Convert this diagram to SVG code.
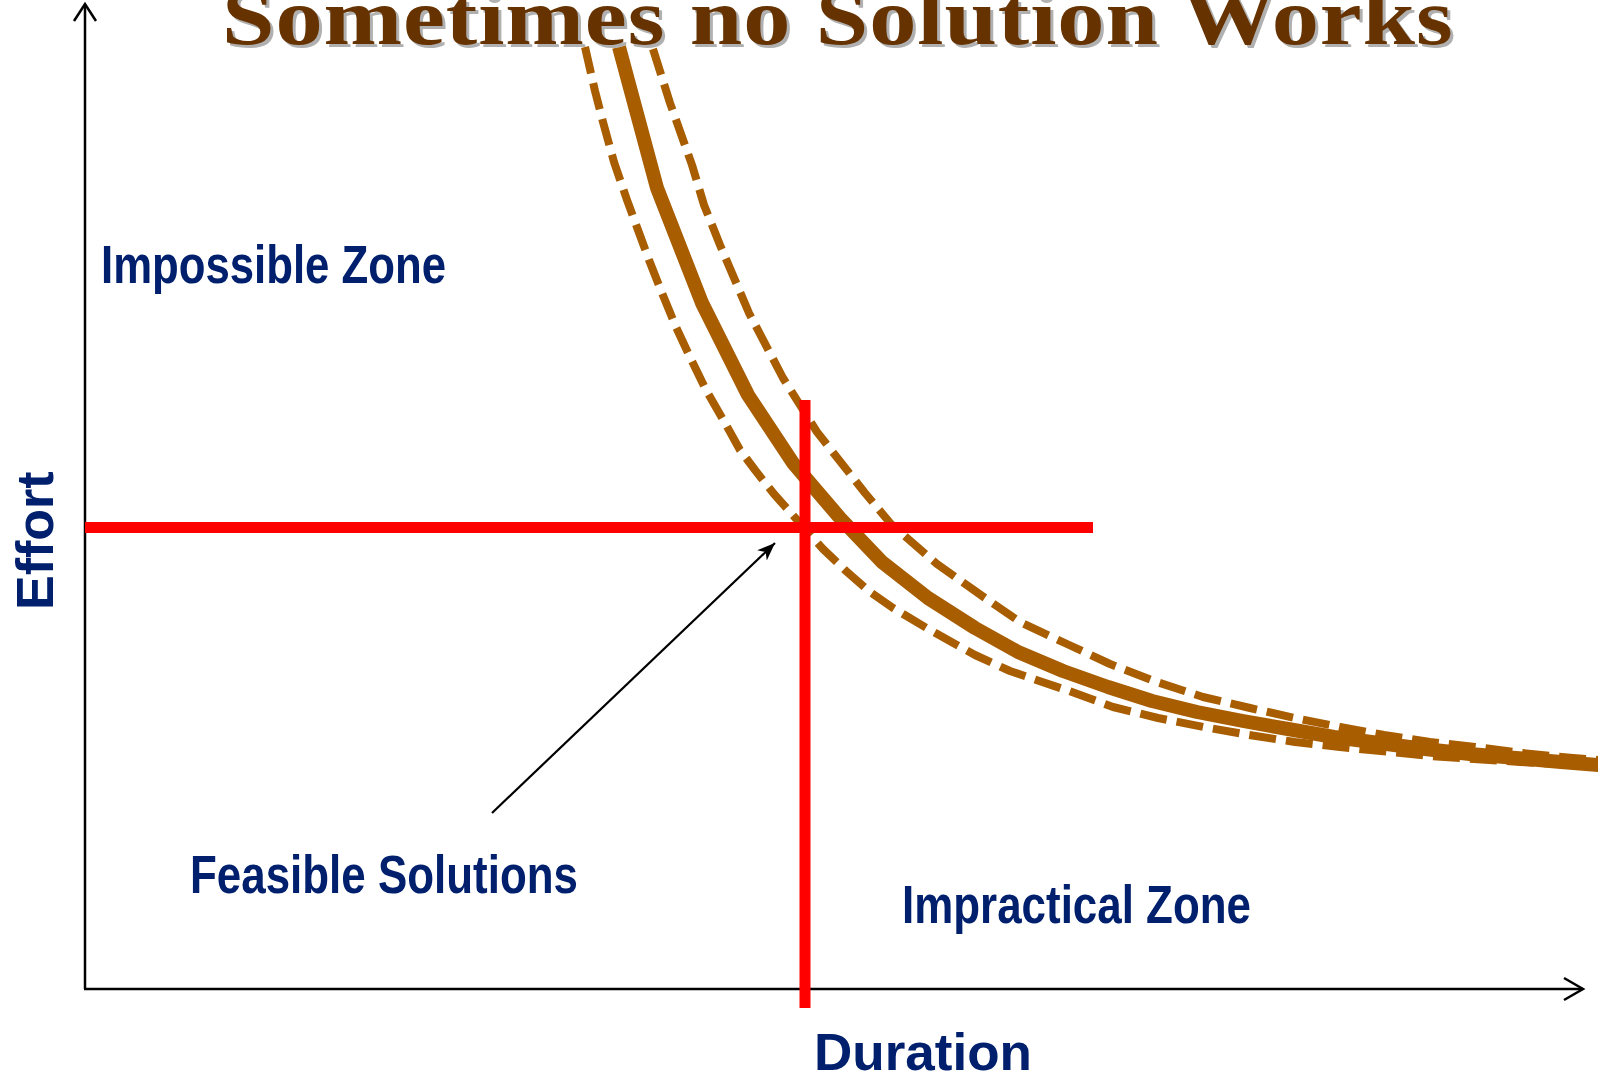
<svg xmlns="http://www.w3.org/2000/svg" width="1598" height="1076" viewBox="0 0 1598 1076">
<defs>
<style>
.lbl{font-family:"Liberation Sans Narrow","Liberation Sans",Arial,sans-serif;font-weight:bold;font-size:53px;fill:#00206E}
.axlbl{font-family:"Liberation Sans",Arial,sans-serif;font-weight:bold;font-size:52px;fill:#00206E}
.title{font-family:"Liberation Serif","Times New Roman",serif;font-weight:bold;font-size:80px}
.axis{stroke:#000;stroke-width:2.5;fill:none}
.red{stroke:#FF0000;stroke-width:11;fill:none}
.solid{stroke:#A85D00;stroke-width:14;fill:none;stroke-linejoin:round}
.dash{stroke:#A85D00;stroke-width:8;fill:none;stroke-dasharray:27 10;stroke-linejoin:round}
</style>
<marker id="ah" markerUnits="userSpaceOnUse" markerWidth="24" markerHeight="20" refX="18" refY="7" orient="auto">
<path d="M0,0 L18,7 L0,14 L5,7 Z" fill="#000"/>
</marker>
</defs>
<rect width="1598" height="1076" fill="#fff"/>

<g id="axes">
<line class="axis" x1="85" y1="989" x2="85" y2="4"/>
<polyline class="axis" points="74,21 85,4 96,21"/>
<line class="axis" x1="84" y1="989" x2="1583" y2="989"/>
<polyline class="axis" points="1564,978 1583,989 1564,1000"/>
</g>

<g id="curves">
<polyline id="curve-upper" class="dash" points="653,49 670,103 692,165 704,205 720,245 749,313 783,378 817,432 865,493 891,524 937,564 985,598 1020,622 1067,644 1110,664 1157,682 1203,697 1250,708 1295,718 1340,727 1384,735 1430,742 1475,747 1522,753 1573,758 1610,761"/>
<polyline id="curve-lower" class="dash" points="585,47 595,91 603,122 614,162 627,200 638,230 649,260 662,293 676,327 690,357 706,390 725,423 740,450 755,470 774,494 798,521 823,549 846,571 870,592 893,608 930,630 975,655 1010,671 1069,691 1113,707 1158,718 1204,727 1249,735 1295,742 1340,747 1430,756 1520,762 1610,767"/>
<polyline id="curve-main" class="solid" points="619,47 657,188 702,303 748,395 793,463 840,518 882,562 928,598 975,628 1018,652 1063,671 1108,687 1152,701 1197,712 1243,721 1288,729 1334,737 1379,743 1425,749 1470,754 1516,758 1561,762 1610,766"/>
</g>

<g id="limits">
<line id="effort-limit" class="red" x1="85" y1="527.5" x2="1093" y2="527.5"/>
<line id="duration-limit" class="red" x1="805" y1="400" x2="805" y2="1008"/>
</g>

<g id="title">
<text class="title" fill="#B0B0B0" transform="translate(225 47) scale(1.18 1)" textLength="1043" lengthAdjust="spacing">Sometimes no Solution Works</text>
<text class="title" fill="#663300" transform="translate(222 44) scale(1.18 1)" textLength="1043" lengthAdjust="spacing">Sometimes no Solution Works</text>
</g>

<g id="impossible-zone"><text class="lbl" x="101" y="283" textLength="345" lengthAdjust="spacingAndGlyphs">Impossible Zone</text></g>
<g id="feasible-solutions"><text class="lbl" x="190" y="893" textLength="388" lengthAdjust="spacingAndGlyphs">Feasible Solutions</text></g>
<g id="impractical-zone"><text class="lbl" x="902" y="923" textLength="349" lengthAdjust="spacingAndGlyphs">Impractical Zone</text></g>
<g id="duration-label"><text class="axlbl" x="814" y="1070" textLength="218" lengthAdjust="spacingAndGlyphs">Duration</text></g>
<g id="effort-label"><text class="axlbl" transform="translate(53 610) rotate(-90)">Effort</text></g>

<g id="connectors">
<line x1="492" y1="813" x2="775" y2="543" stroke="#000" stroke-width="2.2" marker-end="url(#ah)"/>
</g>
</svg>
